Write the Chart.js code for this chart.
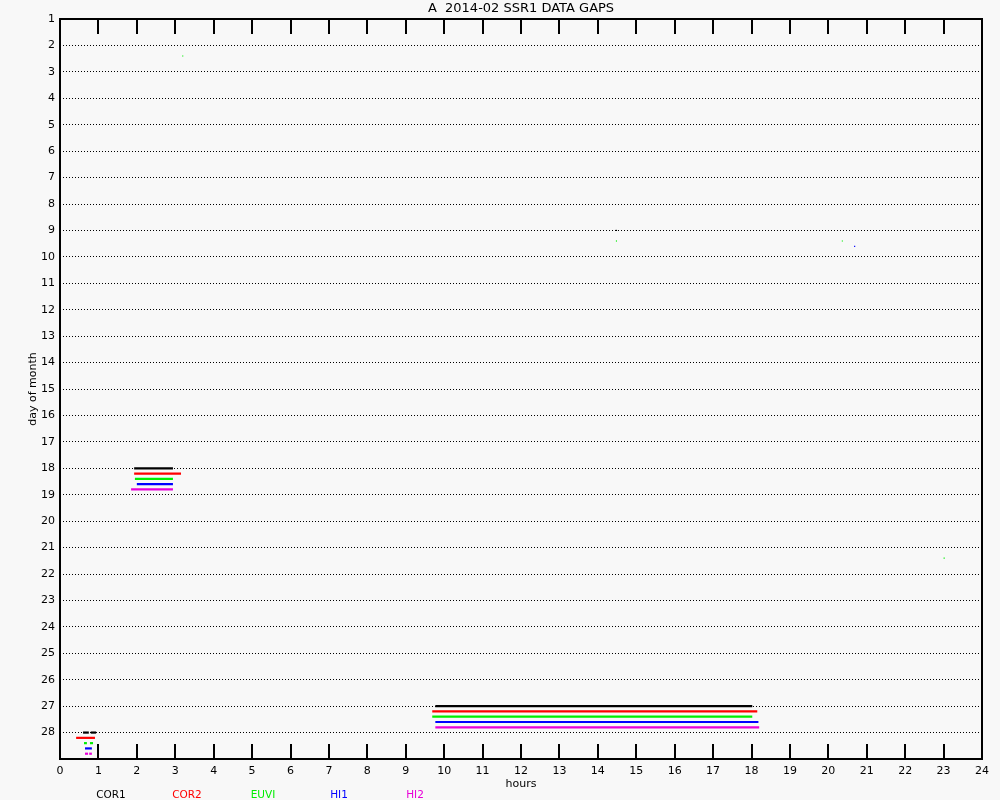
<!DOCTYPE html>
<html>
<head>
<meta charset="utf-8">
<script src="https://cdn.jsdelivr.net/npm/chart.js@4.4.1/dist/chart.umd.min.js"></script>
<style>
  html, body { margin: 0; padding: 0; background: #f8f8f8; }
  canvas { display: block; }
</style>
</head>
<body>
<canvas id="c" width="1000" height="800"></canvas>
<script>
// ---- Data ----
const chartTitle = 'A  2014-02 SSR1 DATA GAPS';
const xTitle = 'hours';
const yTitle = 'day of month';
const instruments = ['COR1', 'COR2', 'EUVI', 'HI1', 'HI2'];
const instrumentColors = ['#000000', '#ff0000', '#00ee00', '#0000ff', '#e800d8'];
// gaps per instrument: [day, startHour, endHour]
const gapsCOR1 = [[9, 14.46, 14.50], [18, 1.93, 2.94], [27, 9.77, 18.02], [28, 0.60, 0.75], [28, 0.80, 0.94]];
const gapsCOR2 = [[18, 1.93, 3.15], [27, 9.69, 18.15], [28, 0.42, 0.91]];
const gapsEUVI = [[2, 3.18, 3.21], [9, 14.47, 14.50], [9, 20.35, 20.38], [18, 1.95, 2.94], [21, 23.00, 23.03],
                  [27, 9.69, 18.02], [28, 0.625, 0.70], [28, 0.78, 0.86]];
const gapsHI1 = [[9, 20.67, 20.70], [18, 2.00, 2.94], [27, 9.77, 18.18], [28, 0.65, 0.83]];
const gapsHI2 = [[18, 1.85, 2.94], [27, 9.77, 18.20], [28, 0.65, 0.73], [28, 0.76, 0.83]];
const allGaps = [gapsCOR1, gapsCOR2, gapsEUVI, gapsHI1, gapsHI2];
const hourTicks = [0,1,2,3,4,5,6,7,8,9,10,11,12,13,14,15,16,17,18,19,20,21,22,23,24];
const dayTicks = [1,2,3,4,5,6,7,8,9,10,11,12,13,14,15,16,17,18,19,20,21,22,23,24,25,26,27,28];

// ---- Styling / layout ----
const laneOffset = 0.2; // each instrument drawn 0.2 day below the previous one
const FONT = "'DejaVu Sans', 'Liberation Sans', sans-serif";

const datasets = [];
allGaps.forEach((gaps, i) => {
  gaps.forEach(g => {
    const short = (g[2] - g[1]) < 0.05;
    datasets.push({
      label: instruments[i],
      data: [{x: g[1], y: g[0] + i * laneOffset}, {x: g[2], y: g[0] + i * laneOffset}],
      borderColor: instrumentColors[i],
      backgroundColor: instrumentColors[i],
      borderWidth: short ? 1.2 : 2.2,
      borderCapStyle: 'butt',
      pointRadius: 0,
      fill: false,
      tension: 0
    });
  });
});

const framePlugin = {
  id: 'frame',
  beforeDraw(chart) {
    const ctx = chart.ctx;
    ctx.save();
    ctx.fillStyle = '#f8f8f8';
    ctx.fillRect(0, 0, chart.width, chart.height);
    ctx.restore();
  },
  afterDraw(chart) {
    const {ctx, chartArea: a, scales: {x}} = chart;
    ctx.save();
    ctx.strokeStyle = '#000';
    ctx.lineWidth = 2;
    ctx.strokeRect(a.left, a.top, a.right - a.left, a.bottom - a.top);
    hourTicks.forEach(h => {
      if (h === hourTicks[0] || h === hourTicks[hourTicks.length - 1]) return;
      const px = Math.round(x.getPixelForValue(h));
      ctx.beginPath();
      ctx.moveTo(px, a.top); ctx.lineTo(px, a.top + 15);
      ctx.moveTo(px, a.bottom); ctx.lineTo(px, a.bottom - 15);
      ctx.stroke();
    });
    ctx.fillStyle = '#000';
    ctx.font = '13px ' + FONT;
    ctx.textAlign = 'center';
    ctx.textBaseline = 'middle';
    ctx.fillText(chartTitle, (a.left + a.right) / 2, 9);
    ctx.font = '10.5px ' + FONT;
    instruments.forEach((name, i) => {
      ctx.fillStyle = instrumentColors[i];
      ctx.fillText(name, 111 + i * 76, 795);
    });
    ctx.restore();
  }
};

new Chart(document.getElementById('c'), {
  type: 'line',
  data: { datasets },
  options: {
    responsive: false,
    animation: false,
    devicePixelRatio: 1,
    layout: { padding: { top: 19, right: 18, left: 0, bottom: 0 } },
    plugins: {
      legend: { display: false },
      title: { display: false },
      tooltip: { enabled: false }
    },
    scales: {
      x: {
        type: 'linear',
        min: 0, max: 24,
        afterFit(s) { s.height = 41; },
        afterBuildTicks(s) { s.ticks = hourTicks.map(v => ({value: v})); },
        grid: { display: false, drawTicks: false },
        border: { display: false },
        ticks: { color: '#000', font: { family: FONT, size: 11 }, padding: 6, maxRotation: 0, autoSkip: false },
        title: { display: true, text: xTitle, color: '#000', font: { family: FONT, size: 11 }, padding: { top: 0, bottom: 9 } }
      },
      y: {
        type: 'linear',
        reverse: true,
        min: 1, max: 29,
        afterFit(s) { s.width = 60; },
        afterBuildTicks(s) { s.ticks = dayTicks.map(v => ({value: v})); },
        grid: {
          drawTicks: false,
          color: (c) => (c.tick && c.tick.value === 1) ? 'rgba(0,0,0,0)' : '#000',
          lineWidth: 1
        },
        border: { display: false, dash: [1, 2] },
        ticks: { color: '#000', font: { family: FONT, size: 11 }, padding: 5, autoSkip: false },
        title: { display: true, text: yTitle, color: '#000', font: { family: FONT, size: 11 }, padding: { top: 27, bottom: 0 } }
      }
    }
  },
  plugins: [framePlugin]
});
</script>
</body>
</html>
